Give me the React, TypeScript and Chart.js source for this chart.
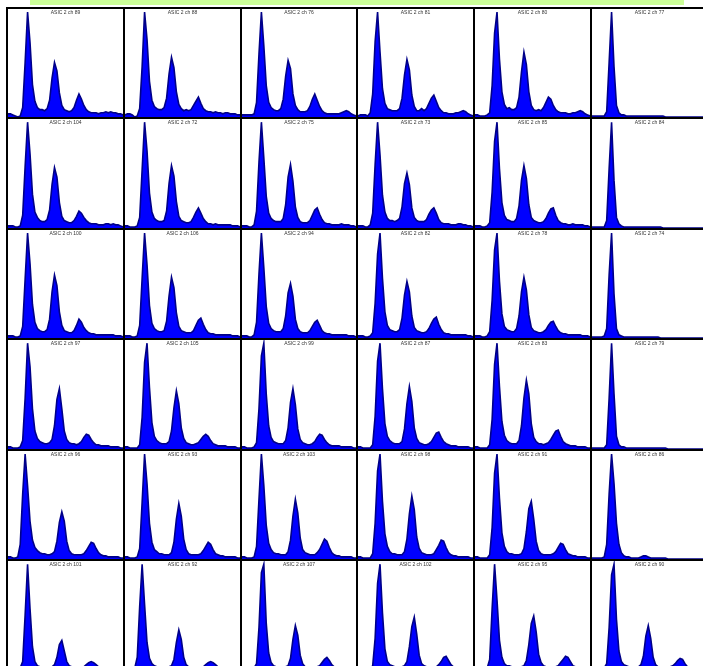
import React, { useEffect, useRef } from "react";
import { Chart, registerables } from "chart.js";
Chart.register(...registerables);

const TITLE_PREFIX = "ASIC 2 ch ";
const GRID_CHANNELS: number[][] = [
  [89, 88, 76, 81, 80, 77],
  [104, 72, 75, 73, 85, 84],
  [100, 106, 94, 82, 78, 74],
  [97, 105, 99, 87, 83, 79],
  [96, 93, 103, 98, 91, 86],
  [101, 92, 107, 102, 95, 90],
];
const BIN_LABELS: string[] = Array.from({ length: 48 }, (_, i) => String(i));

const ch89 = [3,3,2,1,0,1,9,52,100,71,31,15, 9,7,7,6,8,16,37,52,44,23,11,7, 6,5,6,9,16,22,17,11,7,5,4,4, 4,3,4,4,5,4,5,4,4,3,3,2];
const ch88 = [2,3,3,2,0,1,8,48,100,74,34,16, 10,8,7,7,9,18,41,57,47,24,12,8, 6,7,6,7,11,15,19,13,8,6,5,5, 4,5,4,4,3,4,4,3,3,3,2,2];
const ch76 = [2,2,2,2,2,3,14,60,100,68,30,14, 9,7,6,6,8,17,39,54,46,22,11,7, 5,5,5,6,10,17,22,16,10,6,4,3, 3,3,3,3,3,4,5,6,5,3,2,1];
const ch81 = [1,2,2,2,1,4,22,72,100,62,27,13, 8,7,6,6,6,8,18,40,55,45,21,10, 6,6,8,6,8,13,18,21,15,9,6,4, 4,3,3,3,4,4,5,6,5,3,2,1];
const ch80 = [2,2,1,1,1,2,4,30,80,100,55,24, 12,8,9,7,7,9,19,43,62,50,24,11, 7,6,7,6,9,14,19,17,11,7,5,4, 4,4,3,3,4,4,5,6,5,3,2,1];
const ch77 = [1,1,1,1,1,1,5,52,100,48,11,4, 2,2,1,1,1,1,1,1,1,1,1,1, 1,1,1,1,1,1,0,0,0,0,0,0, 0,0,0,0,0,0,0,0,0,0,0,0];

const ch104 = [2,2,2,1,1,2,12,58,100,70,32,15, 10,7,6,6,8,17,41,57,48,24,11,7, 6,5,5,7,11,16,14,10,7,5,4,4, 4,3,3,3,4,4,3,4,3,3,2,1];
const ch72 = [2,2,1,1,1,2,10,55,100,73,33,15, 9,7,6,6,7,16,42,59,49,25,11,7, 6,5,5,6,10,15,19,14,9,6,4,4, 3,4,3,3,3,3,3,3,2,2,2,1];
const ch75 = [2,2,2,1,1,3,16,62,100,66,30,14, 9,7,6,6,6,9,22,48,60,44,20,10, 6,5,5,5,7,12,17,19,13,8,5,4, 4,3,3,3,3,4,3,3,3,2,2,1];
const ch73 = [2,2,2,1,1,3,14,60,100,69,31,15, 9,7,7,6,7,9,20,42,52,41,19,10, 7,6,6,6,8,13,17,19,14,8,5,4, 4,4,3,3,3,4,4,3,3,2,2,1];
const ch85 = [2,2,2,1,1,2,5,34,82,100,56,24, 12,8,7,6,6,9,21,45,59,47,22,10, 7,6,5,5,6,9,14,18,19,12,7,5, 4,4,3,3,4,3,3,3,3,2,2,1];
const ch84 = [1,1,1,1,1,1,7,56,100,45,10,4, 2,1,1,1,1,1,1,1,1,1,1,1, 1,1,1,1,1,0,0,0,0,0,0,0, 0,0,0,0,0,0,0,0,0,0,0,0];

const ch100 = [2,2,2,1,1,2,11,56,100,71,32,15, 9,7,6,6,8,18,44,60,50,25,12,7, 6,5,5,7,12,18,15,10,7,5,4,4, 3,3,3,3,3,3,3,3,2,2,2,1];
const ch106 = [2,2,2,1,1,2,12,57,100,70,31,14, 9,7,6,6,7,16,40,58,48,24,11,7, 6,5,5,5,7,12,17,19,13,8,5,4, 4,3,3,3,3,3,3,3,2,2,2,1];
const ch94 = [2,2,2,1,1,3,15,61,100,67,30,14, 9,7,6,6,6,9,21,43,52,40,18,9, 6,5,5,5,7,11,15,17,12,7,5,4, 4,3,3,3,3,3,3,3,2,2,2,1];
const ch82 = [2,2,2,1,1,2,5,33,80,100,57,25, 12,8,7,6,6,8,19,41,54,44,21,10, 7,6,5,5,6,9,14,18,20,13,8,5, 4,4,3,3,3,3,3,3,3,2,2,1];
const ch78 = [2,2,2,1,1,2,6,36,84,100,54,23, 11,8,7,6,6,9,21,44,58,46,22,10, 7,6,5,5,6,8,12,15,16,11,7,5, 4,4,3,3,3,3,3,3,2,2,2,1];
const ch74 = [1,1,1,1,1,2,9,60,100,42,9,3, 2,1,1,1,1,1,1,1,1,1,1,1, 1,1,1,1,0,0,0,0,0,0,0,0, 0,0,0,0,0,0,0,0,0,0,0,0];

const ch97 = [2,2,1,1,1,2,8,48,100,78,38,17, 10,7,6,5,5,6,9,22,47,57,38,17, 9,6,5,5,4,5,7,11,14,13,9,6, 4,4,3,3,3,3,2,2,2,2,1,1];
const ch105 = [2,2,1,1,1,1,4,30,82,100,58,25, 12,8,6,5,5,5,7,17,39,55,43,20, 10,6,5,4,4,5,6,9,12,14,12,8, 5,4,3,3,3,3,2,2,2,2,1,1];
const ch99 = [2,2,1,1,1,2,6,38,88,100,52,22, 11,7,6,5,5,5,8,20,44,57,42,19, 9,6,5,4,4,5,7,11,14,13,9,6, 4,3,3,3,3,2,2,2,2,2,1,1];
const ch87 = [2,2,1,1,1,1,4,31,83,100,57,24, 12,8,6,5,5,5,7,19,43,59,45,20, 10,6,5,4,4,5,7,11,15,16,11,7, 5,4,3,3,3,2,2,2,2,2,1,1];
const ch83 = [2,2,1,1,1,1,4,28,80,100,59,26, 13,8,6,5,5,5,8,22,48,65,52,24, 11,7,5,5,4,5,6,9,13,17,18,12, 7,5,4,3,3,3,2,2,2,2,1,1];
const ch79 = [1,1,1,1,1,1,4,48,100,52,12,4, 2,2,1,1,1,1,1,1,1,1,1,1, 1,1,1,1,1,1,1,0,0,0,0,0, 0,0,0,0,0,0,0,0,0,0,0,0];

const ch96 = [2,2,1,1,2,14,62,100,70,36,18,11, 8,6,5,5,4,4,5,7,17,35,45,36, 17,8,5,4,4,4,4,5,8,12,16,15, 10,6,4,3,3,2,2,2,2,2,1,1];
const ch93 = [2,2,1,1,1,2,10,54,100,72,34,16, 9,7,5,5,4,4,4,6,16,38,53,41, 19,9,5,4,4,4,4,5,8,12,16,14, 9,5,4,3,3,2,2,2,2,2,1,1];
const ch103 = [2,2,1,1,1,2,12,57,100,70,32,15, 9,6,5,5,4,4,4,7,18,41,57,44, 20,9,6,5,4,4,4,6,9,14,19,17, 11,6,4,3,3,2,2,2,2,2,1,1];
const ch98 = [2,2,1,1,1,1,5,34,84,100,55,24, 12,7,5,5,4,4,4,7,19,43,60,47, 21,10,6,5,4,4,4,5,9,13,18,17, 11,6,4,3,3,2,2,2,2,2,1,1];
const ch91 = [2,2,1,1,1,1,4,30,82,100,58,25, 12,7,5,5,4,4,4,5,10,26,48,55, 38,17,8,5,4,4,4,4,5,7,11,15, 14,9,5,4,3,3,2,2,2,2,1,1];
const ch86 = [1,1,1,1,1,2,14,62,100,72,34,14, 6,3,2,2,1,1,1,1,2,3,3,2, 1,1,1,1,1,1,1,0,0,0,0,0, 0,0,0,0,0,0,0,0,0,0,0,0];

const ch101 = [1,1,1,1,1,2,8,52,100,58,22,8, 4,3,3,3,3,3,3,5,12,24,28,18, 8,4,3,3,2,2,3,3,5,7,8,7, 5,3,2,2,2,2,1,1,1,1,1,1];
const ch92 = [1,1,1,1,2,12,60,100,62,26,11,6, 4,3,3,3,3,3,3,4,10,26,38,29, 12,5,3,3,2,2,2,2,3,5,7,8, 7,5,3,2,2,2,1,1,1,1,1,1];
const ch107 = [1,1,1,1,1,2,6,40,92,100,44,16, 7,4,3,3,3,3,3,4,11,29,42,33, 14,6,3,3,2,2,2,3,4,7,10,12, 9,5,3,2,2,2,1,1,1,1,1,1];
const ch102 = [1,1,1,1,1,1,4,30,82,100,54,20, 8,5,4,3,3,3,3,4,8,22,41,50, 34,14,6,4,3,3,2,3,3,5,8,12, 13,9,5,3,2,2,2,1,1,1,1,1];
const ch95 = [1,1,1,1,1,2,10,58,100,66,28,12, 6,4,4,3,3,3,3,3,4,9,24,44, 51,36,15,7,4,3,3,3,2,3,4,7, 10,13,12,8,4,3,2,2,2,1,1,1];
const ch90 = [1,1,1,1,1,2,6,40,90,100,48,18, 8,5,4,3,3,3,3,3,5,13,32,42, 30,12,5,3,3,2,2,2,3,4,6,9, 11,10,6,3,2,2,2,1,1,1,1,1];

const SERIES: Record<number, number[]> = {
  89: ch89, 88: ch88, 76: ch76, 81: ch81, 80: ch80, 77: ch77,
  104: ch104, 72: ch72, 75: ch75, 73: ch73, 85: ch85, 84: ch84,
  100: ch100, 106: ch106, 94: ch94, 82: ch82, 78: ch78, 74: ch74,
  97: ch97, 105: ch105, 99: ch99, 87: ch87, 83: ch83, 79: ch79,
  96: ch96, 93: ch93, 103: ch103, 98: ch98, 91: ch91, 86: ch86,
  101: ch101, 92: ch92, 107: ch107, 102: ch102, 95: ch95, 90: ch90,
};

const COL_LINES = [6, 123, 240, 356, 473, 590, 707];
const ROW_LINES = [7, 117, 228, 338, 449, 559, 670];
const LINE_W = 2;

function Panel(props: { ch: number; left: number; top: number; width: number; height: number }) {
  const { ch, left, top, width, height } = props;
  const ref = useRef<HTMLCanvasElement>(null);
  useEffect(() => {
    const title = TITLE_PREFIX + ch;
    const titlePlugin = {
      id: "panelTitle",
      afterDraw(chart: any) {
        const ctx = chart.ctx;
        ctx.save();
        ctx.font = '5px "Liberation Sans", Arial, sans-serif';
        ctx.fillStyle = "#333";
        ctx.textAlign = "center";
        ctx.textBaseline = "top";
        ctx.fillText(title, chart.width / 2, 1.5);
        ctx.restore();
      },
    };
    const chart = new Chart(ref.current as HTMLCanvasElement, {
      type: "line",
      data: {
        labels: BIN_LABELS,
        datasets: [
          {
            data: SERIES[ch],
            fill: "origin",
            backgroundColor: "#0000ff",
            borderColor: "#000088",
            borderWidth: 1.6,
            borderJoinStyle: "miter",
            pointRadius: 0,
            tension: 0,
          } as any,
        ],
      },
      options: {
        animation: false,
        responsive: false,
        devicePixelRatio: 1,
        events: [],
        layout: { padding: 0 },
        plugins: { legend: { display: false }, tooltip: { enabled: false }, title: { display: false } },
        scales: {
          x: { display: false, offset: false },
          y: { display: false, min: 0, max: 103 },
        },
      },
      plugins: [titlePlugin],
    });
    return () => chart.destroy();
  }, [ch]);
  return (
    <canvas
      ref={ref}
      width={width}
      height={height}
      style={{ position: "absolute", left, top, width, height, background: "#fff", display: "block" }}
    />
  );
}

export default function App() {
  const panels: React.ReactNode[] = [];
  GRID_CHANNELS.forEach((row, r) => {
    row.forEach((ch, c) => {
      const left = COL_LINES[c] + LINE_W;
      const top = ROW_LINES[r] + LINE_W;
      const width = COL_LINES[c + 1] - COL_LINES[c] - LINE_W;
      const height = ROW_LINES[r + 1] - ROW_LINES[r] - LINE_W;
      panels.push(<Panel key={ch} ch={ch} left={left} top={top} width={width} height={height} />);
    });
  });
  return (
    <div style={{ position: "absolute", left: 0, top: 0, width: 703, height: 666, overflow: "hidden", background: "#fff" }}>
      <div style={{ position: "absolute", left: 30, top: 0, width: 654, height: 5, background: "#ccff99" }} />
      <div
        style={{
          position: "absolute",
          left: COL_LINES[0],
          top: ROW_LINES[0],
          width: COL_LINES[6] - COL_LINES[0] + LINE_W,
          height: ROW_LINES[6] - ROW_LINES[0] + LINE_W,
          background: "#000",
        }}
      />
      {panels}
    </div>
  );
}
